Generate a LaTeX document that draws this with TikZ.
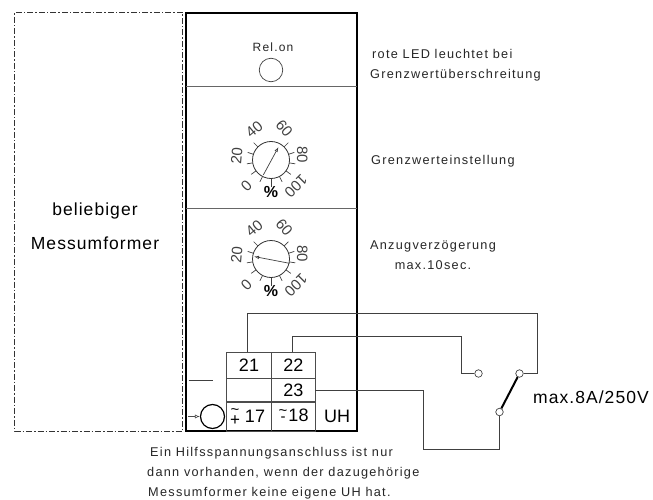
\documentclass[tikz,border=0pt]{standalone}
\usepackage{fontspec}
\setmainfont{Liberation Sans}
\newfontfamily\spaced[LetterSpace=10]{Liberation Sans}
\newfontfamily\semispaced[LetterSpace=6]{Liberation Sans}
\usetikzlibrary{arrows.meta}
\tikzset{
 frame/.style={line width=1.6pt,black},
 thin line/.style={line width=0.7pt,draw=black!75},
 divider/.style={line width=0.8pt,draw=black!60},
 cellbox/.style={draw=black!70,line width=0.8pt,minimum width=44.3pt,minimum height=26pt,inner sep=0pt,font=\fontsize{18}{18}\selectfont},
 note/.style={font=\spaced\fontsize{12.7}{20}\selectfont,align=left,anchor=west,inner sep=0pt,text=black!85},
 big/.style={font=\semispaced\fontsize{17.5}{33.5}\selectfont,align=center,inner sep=0pt},
 contact/.style={circle,draw=black!75,fill=white,line width=0.7pt,minimum size=7.5pt,inner sep=0pt},
 dialnum/.style={font=\fontsize{15}{15}\selectfont,inner sep=0pt,text=black!75},
 termnum/.style={font=\fontsize{18}{18}\selectfont,inner sep=0pt},
 termsym/.style={font=\fontsize{15}{15}\selectfont,inner sep=0pt},
 ptr/.style={line width=0.7pt,draw=black!75,-{Latex[open,length=5pt,width=3.5pt]}},
}
\newcommand{\dial}[3]{%
 \begin{scope}[shift={(#1,#2)}]
  \node[circle,draw=black!80,line width=0.8pt,minimum size=37pt,inner sep=0pt] (dc#3) at (0,0) {};
  \foreach \a in {225,198,171,144,117,63,36,9,-18,-45}
    \draw[thin line] (\a:18.5) -- (\a:24.5);
  \draw[thin line] (90:18.5) -- (90:27);
  \node[dialnum,rotate=45] at (-24.5,26) {0};
  \node[dialnum,rotate=85] at (-34.3,-4.3) {20};
  \node[dialnum,rotate=40] at (-16.7,-30.7) {40};
  \node[dialnum,rotate=-50] at (13.3,-31.7) {60};
  \node[dialnum,rotate=-90] at (31.3,-5) {80};
  \node[dialnum,rotate=-135] at (25,26) {100};
  \node[font=\bfseries\fontsize{16}{16}\selectfont,inner sep=0pt] at (0,31.5) {\%};
 \end{scope}}
\begin{document}
\begin{tikzpicture}[x=1pt,y=-1pt]
\useasboundingbox (0,0) rectangle (653,500);
% transducer outline
\coordinate (a1) at (182.5,12.5);
\coordinate (a2) at (14.5,12.5);
\coordinate (a3) at (14.5,431);
\coordinate (a4) at (182.5,431);
\draw[line width=0.6pt,black!80,dash pattern=on 6pt off 2pt on 1.5pt off 2pt] (a1) -- (a2) -- (a3) -- (a4) -- cycle;
\node[big] (bel) at (95,226) {beliebiger\\Messumformer};
% main frame
\draw[frame] (186,13) rectangle (357,431);
\coordinate (d1l) at (186,86); \coordinate (d1r) at (357,86);
\coordinate (d2l) at (186,208); \coordinate (d2r) at (357,208);
\draw[divider] (d1l) -- (d1r);
\draw[divider] (d2l) -- (d2r);
% LED
\node[font=\spaced\fontsize{12}{12}\selectfont,inner sep=0pt,text=black!85] (rel) at (273,47) {Rel.on};
\node[circle,draw=black!75,line width=0.7pt,minimum size=23.5pt,inner sep=0pt] (led) at (271,70) {};
% dials
\dial{271}{160}{a}
\dial{271}{259}{b}
\coordinate (p1s) at (263.3,175); \coordinate (p1e) at (278.5,147);
\draw[ptr] (p1s) -- (p1e);
\coordinate (p2s) at (289.5,263.3); \coordinate (p2e) at (254,256.5);
\draw[ptr] (p2s) -- (p2e);
% notes
\node[note] (n1) at (370,65) {\hspace*{2pt}rote LED leuchtet bei\\Grenzwertüberschreitung};
\node[note] (n2) at (371,161) {Grenzwerteinstellung};
\node[note,align=center,anchor=center] (n3) at (433,255.5) {Anzugverzögerung\\max.10sec.};
% terminals
\node[cellbox] (c21) at (249,365) {21};
\node[cellbox] (c22) at (293.3,365) {22};
\node[cellbox,minimum height=23.5pt] (cE) at (249,390) {};
\node[cellbox,minimum height=23.5pt] (c23) at (293.3,390) {23};
\node[cellbox,minimum height=29pt] (c17) at (249,416.5) {};
\node[cellbox,minimum height=29pt] (c18) at (293.3,416.5) {};
\node[termnum] (t17) at (255,416) {17};
\node[termnum] (t18) at (298.5,415) {18};
\node[termsym,font=\fontsize{17}{17}\selectfont] (plus) at (235,421) {+};
\node[termsym] (tl1) at (235,412) {\char"7E};
\node[termsym] (tl2) at (283,413) {\char"7E};
\node[termsym] (minus) at (283,419) {-};
\node[termnum] (uh) at (337,416) {UH};
\coordinate (f1) at (188.5,380); \coordinate (f2) at (212.5,380);
\draw[thin line] (f1) -- (f2);
\node[circle,draw=black,line width=1.2pt,minimum size=24pt,inner sep=0pt] (tb) at (212.5,416.5) {};
\coordinate (tbi) at (188,416.5);
\draw[line width=0.6pt,black!70,-{Latex[open,length=5pt,width=4pt]}] (tbi) -- (tb.west);
% contacts
\node[contact] (k1) at (478.5,373.5) {};
\node[contact] (k2) at (519.5,373.5) {};
\node[contact] (k3) at (499.5,412) {};
\draw[line width=2pt,black] (k2) -- (k3);
\coordinate (w1a) at (247.5,351.5); \coordinate (w1b) at (247.5,313); \coordinate (w1c) at (537.5,313); \coordinate (w1d) at (537.5,373.5);
\draw[thin line] (w1a) -- (w1b) -- (w1c) -- (w1d) -- (k2);
\coordinate (w2a) at (292.5,351.5); \coordinate (w2b) at (292.5,336); \coordinate (w2c) at (461.5,336); \coordinate (w2d) at (461.5,373.5);
\draw[thin line] (w2a) -- (w2b) -- (w2c) -- (w2d) -- (k1);
\coordinate (w3a) at (315.4,390); \coordinate (w3b) at (423.5,390); \coordinate (w3c) at (423.5,449.5); \coordinate (w3d) at (499.5,449.5);
\draw[thin line] (w3a) -- (w3b) -- (w3c) -- (w3d) -- (k3);
\node[font=\semispaced\fontsize{17.5}{18}\selectfont,inner sep=0pt,anchor=west] (rate) at (533,397) {max.8A/250V};
\node[note,font=\spaced\fontsize{12.7}{20}\selectfont] (hint) at (147,473) {\hspace*{3pt}Ein Hilfsspannungsanschluss ist nur\\dann vorhanden, wenn der dazugehörige\\\hspace*{1pt}Messumformer keine eigene UH hat.};
\end{tikzpicture}
\end{document}
